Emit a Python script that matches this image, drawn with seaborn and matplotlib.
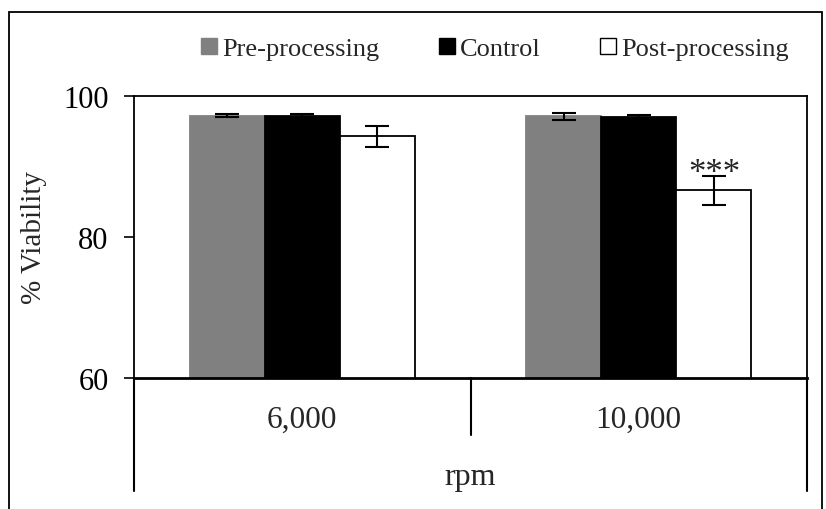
import matplotlib
matplotlib.use("Agg")
import matplotlib.pyplot as plt
import seaborn as sns
import pandas as pd
import numpy as np
from matplotlib.patches import Rectangle

categories = ["6,000", "10,000"]
series = ["Pre-processing", "Control", "Post-processing"]
pre_vals = [97.2, 97.1]
ctrl_vals = [97.1, 97.0]
post_vals = [94.3, 86.6]
pre_err = [0.2, 0.5]
ctrl_err = [0.3, 0.3]
post_err = [1.5, 2.1]
yticks = [60, 80, 100]

sns.set_theme(style="white")
plt.rcParams["font.family"] = ["Liberation Serif", "DejaVu Serif"]

rows = []
for s, vals in zip(series, [pre_vals, ctrl_vals, post_vals]):
    for c, v in zip(categories, vals):
        rows.append({"rpm": c, "series": s, "value": v})
df = pd.DataFrame(rows)

colors = {"Pre-processing": "#808080", "Control": "#000000", "Post-processing": "#ffffff"}
edges = {"Pre-processing": "#808080", "Control": "#000000", "Post-processing": "#000000"}

fig = plt.figure(figsize=(8.26, 5.10), dpi=100)
ax = fig.add_axes([134/826, 1-379/510, (807-134)/826, (379-97)/510])

sns.barplot(data=df, x="rpm", y="value", hue="series", order=categories,
            hue_order=series, palette=colors, width=0.67, ax=ax,
            errorbar=None, legend=True, saturation=1)

errs = {"Pre-processing": pre_err, "Control": ctrl_err, "Post-processing": post_err}
for cont, s in zip(ax.containers, series):
    for i, bar in enumerate(cont):
        bar.set_edgecolor(edges[s])
        bar.set_linewidth(1.3)
        xc = bar.get_x() + bar.get_width()/2
        h = bar.get_height()
        ax.errorbar(xc, h, yerr=errs[s][i], color="black", capsize=8.5,
                    capthick=1.5, elinewidth=1.5, fmt="none", zorder=5)
        if s == "Post-processing" and i == 1:
            ax.text(xc, h + errs[s][i] + 0.3, "***", ha="center", va="center",
                    fontsize=25)

ax.set_ylim(60, 100)
ax.set_xlim(-0.5, 1.5)
ax.set_yticks(yticks)
ax.set_yticklabels([str(t) for t in yticks], fontsize=22)
ax.tick_params(axis="y", length=7.2, width=1.2, direction="out", left=True, pad=11, colors="black")
ax.tick_params(axis="x", length=0, labelsize=22.5, pad=19)
ax.set_xlabel("")
ax.set_ylabel("% Viability", fontsize=21, labelpad=12)
for sp in ax.spines.values():
    sp.set_visible(True)
    sp.set_color("black")
    sp.set_linewidth(1.3)
ax.spines["bottom"].set_linewidth(2)

# lines below the axis (category divisions)
for xa, yb in [(0, -0.4007), (0.5, -0.202), (1, -0.4007)]:
    ax.plot([xa, xa], [0, yb], transform=ax.transAxes, color="black",
            lw=1.5, clip_on=False)
ax.text(0.5, -0.35, "rpm", transform=ax.transAxes, ha="center", va="center", fontsize=23)

# legend
handles = [Rectangle((0, 0), 1, 1, facecolor=colors[s], edgecolor=edges[s], lw=1) for s in series]
ax.get_legend().remove()
fig.legend(handles, series, loc="center", bbox_to_anchor=(495/826, 1-50/510),
           ncol=3, frameon=False, fontsize=19, handlelength=0.6, handleheight=0.6,
           handletextpad=0.2, columnspacing=2.25)

# outer border
fig.patches.append(Rectangle((9/826, -0.05), (822-9)/826, 1.05-13/510,
                             transform=fig.transFigure, fill=False,
                             edgecolor="black", lw=1.3))

fig.savefig("out.png", dpi=100)
